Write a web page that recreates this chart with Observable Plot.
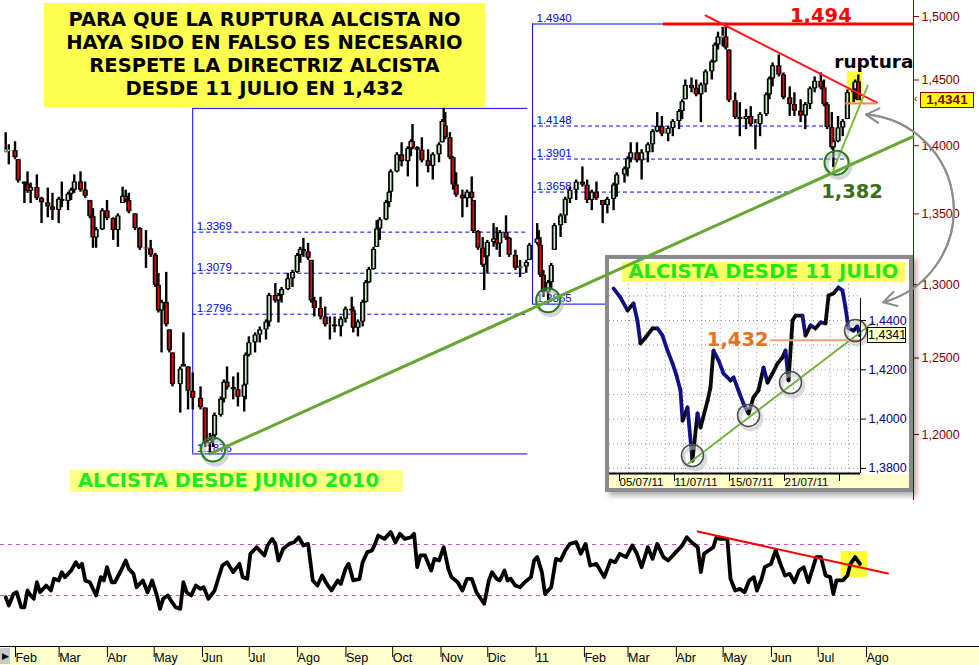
<!DOCTYPE html>
<html>
<head>
<meta charset="utf-8">
<script src="https://cdn.jsdelivr.net/npm/d3@7"></script>
<script src="https://cdn.jsdelivr.net/npm/@observablehq/plot@0.6"></script>
<style>
  html,body{margin:0;padding:0;background:#fff;}
  #chart{position:relative;width:979px;height:665px;overflow:hidden;background:#fff;}
  .box{position:absolute;box-sizing:border-box;}
</style>
</head>
<body>
<div id="chart"></div>
<script>
// ================= DATA =================
// EUR/USD candles (≈ every 2-3 sessions)
const candleDates = [
"2010-01-27","2010-01-29","2010-02-02","2010-02-04","2010-02-08","2010-02-10","2010-02-12","2010-02-16",
"2010-02-19","2010-02-23","2010-02-26","2010-03-02","2010-03-04","2010-03-08","2010-03-10","2010-03-12",
"2010-03-16","2010-03-19","2010-03-22","2010-03-24","2010-03-26","2010-03-30","2010-04-02","2010-04-06",
"2010-04-09","2010-04-12","2010-04-14","2010-04-16","2010-04-20","2010-04-23","2010-04-27","2010-04-30",
"2010-05-03","2010-05-05","2010-05-07","2010-05-10","2010-05-12","2010-05-14","2010-05-19","2010-05-21",
"2010-05-24","2010-05-27","2010-06-01","2010-06-04","2010-06-07","2010-06-09","2010-06-10","2010-06-14",
"2010-06-16","2010-06-18","2010-06-22","2010-06-25","2010-06-29","2010-06-30","2010-07-02","2010-07-06",
"2010-07-09","2010-07-13","2010-07-15","2010-07-19","2010-07-21","2010-07-23","2010-07-27","2010-07-30",
"2010-08-02","2010-08-04","2010-08-06","2010-08-09","2010-08-11","2010-08-13","2010-08-17","2010-08-20",
"2010-08-23","2010-08-26","2010-08-30","2010-09-02","2010-09-06","2010-09-07","2010-09-10","2010-09-13",
"2010-09-15","2010-09-17","2010-09-20","2010-09-22","2010-09-24","2010-09-28","2010-09-30","2010-10-01",
"2010-10-05","2010-10-08","2010-10-12","2010-10-14","2010-10-15","2010-10-18","2010-10-21","2010-10-25",
"2010-10-28","2010-11-01","2010-11-03","2010-11-04","2010-11-05","2010-11-08","2010-11-10","2010-11-12",
"2010-11-16","2010-11-19","2010-11-22","2010-11-23","2010-11-26","2010-11-29","2010-11-30","2010-12-02",
"2010-12-06","2010-12-08","2010-12-10","2010-12-14","2010-12-16","2010-12-20","2010-12-23","2010-12-27",
"2010-12-29","2011-01-03","2011-01-04","2011-01-05","2011-01-07","2011-01-10","2011-01-12","2011-01-14",
"2011-01-18","2011-01-21","2011-01-24","2011-01-28","2011-02-01","2011-02-04","2011-02-07","2011-02-10",
"2011-02-14","2011-02-17","2011-02-21","2011-02-23","2011-02-28","2011-03-02","2011-03-04","2011-03-08",
"2011-03-11","2011-03-15","2011-03-18","2011-03-21","2011-03-24","2011-03-28","2011-03-31","2011-04-04",
"2011-04-06","2011-04-08","2011-04-12","2011-04-15","2011-04-18","2011-04-21","2011-04-25","2011-04-27",
"2011-04-29","2011-05-02","2011-05-04","2011-05-06","2011-05-10","2011-05-13","2011-05-17","2011-05-20",
"2011-05-23","2011-05-26","2011-05-30","2011-06-01","2011-06-03","2011-06-07","2011-06-10","2011-06-14",
"2011-06-17","2011-06-21","2011-06-24","2011-06-27","2011-06-30","2011-07-04","2011-07-06","2011-07-08",
"2011-07-11","2011-07-12","2011-07-15","2011-07-18","2011-07-21","2011-07-25","2011-07-26","2011-07-28"];
const candleHigh = [
1.4098,1.4007,1.4030,1.3896,1.3731,1.3806,1.3724,1.3784,
1.3620,1.3687,1.3649,1.3620,1.3731,1.3657,1.3687,1.3784,
1.3806,1.3731,1.3597,1.3537,1.3401,1.3537,1.3597,1.3472,
1.3500,1.3694,1.3672,1.3649,1.3500,1.3401,1.3380,1.3310,
1.3218,1.3078,1.2892,1.3085,1.2689,1.2534,1.2441,1.2669,
1.2441,1.2401,1.2309,1.2171,1.2007,1.2007,1.2138,1.2243,
1.2355,1.2441,1.2375,1.2401,1.2336,1.2534,1.2642,1.2669,
1.2709,1.2757,1.2939,1.3007,1.2939,1.2980,1.3078,1.3099,
1.3218,1.3261,1.3324,1.3289,1.3169,1.2912,1.2912,1.2845,
1.2777,1.2777,1.2777,1.2845,1.2912,1.2845,1.2757,1.2892,
1.3028,1.3120,1.3261,1.3451,1.3472,1.3597,1.3672,1.3821,
1.3948,1.4022,1.3993,1.4045,1.4159,1.3993,1.4060,1.3970,
1.3948,1.4022,1.4197,1.4282,1.4250,1.4098,1.3918,1.3799,
1.3672,1.3672,1.3769,1.3597,1.3380,1.3331,1.3240,1.3310,
1.3430,1.3401,1.3380,1.3486,1.3331,1.3240,1.3169,1.3169,
1.3289,1.3430,1.3380,1.3331,1.3099,1.3028,1.3148,1.3430,
1.3500,1.3620,1.3694,1.3746,1.3843,1.3746,1.3672,1.3731,
1.3597,1.3620,1.3724,1.3799,1.3843,1.3918,1.4022,1.4022,
1.3970,1.4022,1.4121,1.4250,1.4220,1.4144,1.4197,1.4273,
1.4348,1.4500,1.4516,1.4500,1.4477,1.4578,1.4656,1.4789,
1.4875,1.4914,1.4940,1.4734,1.4401,1.4326,1.4273,1.4295,
1.4197,1.4250,1.4401,1.4524,1.4633,1.4695,1.4555,1.4447,
1.4401,1.4348,1.4326,1.4447,1.4524,1.4555,1.4500,1.4326,
1.4250,1.4045,1.4220,1.4197,1.4424,1.4477,1.4500,1.4539];
const candleLow = [
1.3948,1.3858,1.3896,1.3724,1.3575,1.3649,1.3575,1.3597,
1.3430,1.3472,1.3451,1.3430,1.3545,1.3523,1.3597,1.3649,
1.3657,1.3612,1.3465,1.3254,1.3254,1.3380,1.3451,1.3310,
1.3261,1.3575,1.3582,1.3500,1.3380,1.3240,1.3113,1.3190,
1.2980,1.2804,1.2534,1.2709,1.2534,1.2309,1.2138,1.2441,
1.2158,1.2158,1.2158,1.1917,1.1876,1.1917,1.1981,1.2112,
1.2204,1.2289,1.2224,1.2178,1.2145,1.2224,1.2507,1.2534,
1.2601,1.2621,1.2709,1.2872,1.2736,1.2872,1.2959,1.2980,
1.3078,1.3148,1.3190,1.3169,1.2872,1.2777,1.2757,1.2709,
1.2621,1.2669,1.2642,1.2736,1.2804,1.2669,1.2642,1.2709,
1.2872,1.3007,1.3099,1.3261,1.3310,1.3451,1.3545,1.3620,
1.3799,1.3843,1.3769,1.3918,1.3970,1.3694,1.3873,1.3799,
1.3746,1.3873,1.4022,1.4083,1.4045,1.3896,1.3672,1.3620,
1.3472,1.3545,1.3597,1.3359,1.3240,1.3120,1.2959,1.3078,
1.3261,1.3240,1.3190,1.3310,1.3190,1.3099,1.3049,1.3078,
1.3169,1.3289,1.3261,1.3049,1.2912,1.2867,1.2959,1.3240,
1.3331,1.3430,1.3575,1.3597,1.3694,1.3575,1.3523,1.3597,
1.3430,1.3500,1.3523,1.3620,1.3724,1.3769,1.3873,1.3873,
1.3746,1.3873,1.3948,1.4098,1.4068,1.4030,1.4068,1.4121,
1.4197,1.4348,1.4401,1.4371,1.4174,1.4401,1.4500,1.4633,
1.4734,1.4758,1.4734,1.4326,1.4197,1.4068,1.4121,1.4144,
1.3970,1.4068,1.4220,1.4348,1.4447,1.4524,1.4348,1.4220,
1.4220,1.4174,1.4121,1.4273,1.4401,1.4424,1.4295,1.4121,
1.3970,1.3837,1.4022,1.4068,1.4197,1.4326,1.4348,1.4348];
const candleClose = [
1.3960,1.3963,1.3911,1.3739,1.3716,1.3664,1.3691,1.3612,
1.3580,1.3550,1.3525,1.3605,1.3590,1.3642,1.3672,1.3732,
1.3672,1.3627,1.3480,1.3328,1.3386,1.3522,1.3466,1.3381,
1.3485,1.3627,1.3597,1.3515,1.3395,1.3255,1.3250,1.3205,
1.2995,1.2819,1.2877,1.2724,1.2549,1.2324,1.2426,1.2456,
1.2280,1.2234,1.2173,1.1942,1.1962,1.1992,1.2123,1.2228,
1.2340,1.2304,1.2290,1.2241,1.2321,1.2519,1.2602,1.2654,
1.2689,1.2742,1.2924,1.2887,1.2924,1.2965,1.3040,1.3084,
1.3203,1.3246,1.3229,1.3184,1.2887,1.2835,1.2777,1.2724,
1.2723,1.2710,1.2762,1.2830,1.2819,1.2700,1.2742,1.2877,
1.3013,1.3105,1.3246,1.3391,1.3457,1.3582,1.3657,1.3806,
1.3932,1.3881,1.3978,1.4030,1.3985,1.3967,1.3888,1.3847,
1.3933,1.4007,1.4182,1.4148,1.4060,1.3911,1.3710,1.3635,
1.3609,1.3657,1.3612,1.3374,1.3255,1.3135,1.3194,1.3295,
1.3320,1.3285,1.3365,1.3325,1.3205,1.3114,1.3123,1.3154,
1.3274,1.3320,1.3276,1.3064,1.2947,1.3013,1.3133,1.3415,
1.3485,1.3605,1.3671,1.3731,1.3709,1.3597,1.3657,1.3612,
1.3560,1.3605,1.3709,1.3783,1.3828,1.3903,1.3947,1.3888,
1.3947,1.4007,1.4106,1.4144,1.4087,1.4129,1.4182,1.4258,
1.4333,1.4458,1.4435,1.4386,1.4462,1.4563,1.4641,1.4774,
1.4836,1.4837,1.4749,1.4341,1.4212,1.4197,1.4220,1.4159,
1.4159,1.4235,1.4386,1.4509,1.4610,1.4539,1.4363,1.4311,
1.4261,1.4224,1.4311,1.4432,1.4490,1.4439,1.4310,1.4136,
1.3985,1.4030,1.4133,1.4182,1.4402,1.4424,1.4485,1.4341];

// lower-panel oscillator
const oscDates = [
"2010-01-27","2010-01-29","2010-02-01","2010-02-03","2010-02-06","2010-02-08","2010-02-10","2010-02-12","2010-02-14","2010-02-16",
"2010-02-18","2010-02-22","2010-02-25","2010-02-27","2010-03-02","2010-03-04","2010-03-06","2010-03-10","2010-03-13","2010-03-15",
"2010-03-17","2010-03-19","2010-03-22","2010-03-26","2010-03-29","2010-03-31","2010-04-02","2010-04-05","2010-04-07","2010-04-11",
"2010-04-14","2010-04-16","2010-04-19","2010-04-21","2010-04-25","2010-04-28","2010-05-01","2010-05-04","2010-05-06","2010-05-08",
"2010-05-11","2010-05-13","2010-05-16","2010-05-19","2010-05-21","2010-05-23","2010-05-26","2010-05-29","2010-06-01","2010-06-03",
"2010-06-06","2010-06-10","2010-06-12","2010-06-15","2010-06-18","2010-06-20","2010-06-22","2010-06-26","2010-06-28","2010-07-01",
"2010-07-03","2010-07-07","2010-07-12","2010-07-14","2010-07-17","2010-07-19","2010-07-21","2010-07-24","2010-07-28","2010-07-31",
"2010-08-03","2010-08-06","2010-08-09","2010-08-12","2010-08-15","2010-08-18","2010-08-21","2010-08-24","2010-08-28","2010-08-30",
"2010-09-02","2010-09-04","2010-09-07","2010-09-11","2010-09-13","2010-09-16","2010-09-19","2010-09-21","2010-09-23","2010-09-27",
"2010-10-01","2010-10-04","2010-10-07","2010-10-10","2010-10-14","2010-10-16","2010-10-18","2010-10-20","2010-10-23","2010-10-27",
"2010-10-29","2010-11-01","2010-11-04","2010-11-07","2010-11-09","2010-11-13","2010-11-16","2010-11-19","2010-11-22","2010-11-25",
"2010-11-30","2010-12-03","2010-12-05","2010-12-08","2010-12-10","2010-12-13","2010-12-15","2010-12-17","2010-12-20","2010-12-23",
"2010-12-26","2010-12-30","2011-01-01","2011-01-03","2011-01-06","2011-01-08","2011-01-12","2011-01-15","2011-01-18","2011-01-21",
"2011-01-24","2011-01-28","2011-01-31","2011-02-03","2011-02-06","2011-02-10","2011-02-15","2011-02-19","2011-02-22","2011-02-25",
"2011-03-01","2011-03-05","2011-03-08","2011-03-11","2011-03-15","2011-03-18","2011-03-21","2011-03-25","2011-03-28","2011-04-02",
"2011-04-06","2011-04-09","2011-04-12","2011-04-16","2011-04-18","2011-04-20","2011-04-23","2011-04-26","2011-04-28","2011-04-30",
"2011-05-05","2011-05-07","2011-05-10","2011-05-13","2011-05-16","2011-05-19","2011-05-22","2011-05-24","2011-05-27","2011-05-29",
"2011-06-02","2011-06-05","2011-06-08","2011-06-11","2011-06-14","2011-06-17","2011-06-20","2011-06-23","2011-06-26","2011-07-01",
"2011-07-04","2011-07-07","2011-07-10","2011-07-12","2011-07-14","2011-07-18","2011-07-21","2011-07-23","2011-07-26","2011-07-29"];
const oscValues = [
28.7,22.1,31.3,32.6,20.8,20.8,33.9,30.0,27.4,40.4,
32.6,37.8,33.9,43.1,41.8,48.3,44.4,49.6,56.1,52.2,
54.8,41.8,40.4,30.0,44.4,41.8,52.2,40.4,40.4,49.6,
57.4,50.9,47.0,36.5,41.8,32.6,41.8,30.0,19.5,27.4,
30.0,26.1,20.8,19.5,40.4,32.6,30.0,37.8,35.2,36.5,
27.4,33.9,41.8,53.5,56.1,52.2,48.3,54.8,44.4,43.1,
62.7,67.9,61.4,69.2,74.4,70.5,57.4,66.6,70.5,71.8,
75.7,69.2,70.5,41.8,37.8,45.7,39.1,33.9,41.8,39.1,
50.9,54.8,41.8,43.1,56.1,64.0,65.3,70.5,77.0,74.4,
79.7,71.8,78.4,74.4,75.7,78.4,52.2,61.4,61.4,49.6,
58.7,57.4,67.9,50.9,44.4,40.4,33.9,43.1,43.1,32.6,
23.5,41.8,48.3,43.1,41.8,49.6,41.8,43.1,37.8,36.5,
40.4,44.4,57.4,60.1,48.3,31.3,36.5,58.7,57.4,65.3,
70.5,71.8,62.7,70.5,53.5,54.8,44.4,57.4,56.1,62.7,
60.1,69.2,62.7,52.2,67.9,58.7,70.5,60.1,57.4,64.0,
69.2,75.7,71.8,67.9,48.3,62.7,65.3,67.9,75.7,74.4,
74.4,43.1,33.9,35.2,32.6,41.8,44.4,33.9,43.1,52.2,
54.8,65.3,54.8,45.7,47.0,40.4,49.6,52.2,40.4,60.1,
60.1,45.7,44.4,31.3,41.8,41.8,45.7,54.8,60.1,54.8];
const oscLevels = [30, 70];
const oscLevelEnd = "2011-07-29";
const oscTrend = [["2011-04-16", 80.2], ["2011-08-16", 47.3]];
const oscBox = {x1: "2011-07-17", x2: "2011-08-03", y1: 44.1, y2: 64.5};

// Fibonacci retracements
const fib1Levels = [1.3369, 1.3079, 1.2796];
const fib1High = 1.4282, fib1Low = 1.1876;
const fib1Span = ["2010-05-27", "2010-12-28"];
const fib2Levels = [1.4148, 1.3901, 1.3658];
const fib2LevelEnds = ["2011-07-10", "2011-07-21", "2011-06-16"];
const fib2High = 1.4940, fib2Low = 1.2865;
const fib2Start = "2010-12-31", fib2TopEnd = "2011-03-25", fib2BottomEnd = "2011-02-20";

// annotations on the main chart
const resistance = 1.494, resistanceStart = "2011-03-25";
const mainTrend = [["2010-06-07", 1.1876], ["2011-09-01", 1.4068]];
const shortTrend = [["2011-07-12", 1.3821], ["2011-08-03", 1.4455]];
const downTrend = [["2011-04-21", 1.5008], ["2011-08-09", 1.4326]];
const breakLevel = {x1: "2011-07-20", x2: "2011-08-09", y: 1.432};
const breakBox = {x1: "2011-07-21", x2: "2011-07-31", y1: 1.4326, y2: 1.4563};
const pivots = [["2010-06-09", 1.1904], ["2011-01-10", 1.2892], ["2011-07-14", 1.3873]];
const label1494 = ["2011-07-04", 1.501];
const label1382 = ["2011-07-24", 1.3658];
const labelRuptura = ["2011-08-07", 1.4641];
const arrowEnds = [["2011-08-02", 1.4235], ["2011-08-13", 1.2878]];
const lastPrice = 1.4341;
const priceTicks = [1.20, 1.25, 1.30, 1.35, 1.40, 1.45, 1.50];
const monthTicks = ["2010-02-01","2010-03-01","2010-04-01","2010-05-01","2010-06-01","2010-07-01","2010-08-01",
  "2010-09-01","2010-10-01","2010-11-01","2010-12-01","2011-01-01","2011-02-01","2011-03-01","2011-04-01",
  "2011-05-01","2011-06-01","2011-07-01","2011-08-01"];
const monthLabels = ["Feb","Mar","Abr","May","Jun","Jul","Ago","Sep","Oct","Nov","Dic","11","Feb","Mar","Abr","May","Jun","Jul","Ago"];

// inset: hourly EUR/USD since 4 July 2011 (x = trading days after 05/07/11)
const insetT = [-0.29,0.22,0.73,1.16,1.45,1.67,2.04,2.55,2.91,3.27,3.64,4.0,4.29,4.58,4.73,5.09,5.45,5.82,6.04,6.55,
  6.76,6.98,7.35,7.71,8.22,8.44,8.8,9.16,9.53,9.89,10.25,10.62,10.91,11.27,11.64,12.0,12.22,12.44,12.73,12.95,
  13.45,13.67,14.04,14.4,14.76,15.13,15.35,15.71,16.07,16.36,16.58,16.8,17.16,17.45,17.6];
const insetPrice = [1.4530,1.4493,1.4441,1.4469,1.4400,1.4307,1.4331,1.4368,1.4368,1.4339,1.4278,1.4226,1.4177,1.4116,
  1.3994,1.4047,1.3832,1.4023,1.3966,1.4075,1.4128,1.4278,1.4238,1.4185,1.4157,1.4169,1.4116,1.4063,1.4023,1.4088,
  1.4116,1.4209,1.4148,1.4185,1.4226,1.4250,1.4278,1.4157,1.4400,1.4420,1.4420,1.4339,1.4380,1.4368,1.4392,1.4388,
  1.4501,1.4510,1.4534,1.4522,1.4453,1.4368,1.4359,1.4376,1.4341];
const insetTicks = [0, 4, 8, 12, 16];
const insetTickLabels = ["05/07/11", "11/07/11", "15/07/11", "21/07/11", ""];
const insetPriceTicks = [1.38, 1.40, 1.42, 1.44];
const insetGridPrices = [1.38, 1.39, 1.40, 1.41, 1.42, 1.43, 1.44, 1.45];
const insetGridT = [0.8, 2.13, 3.47, 4.8, 6.13, 7.47, 8.8, 10.13, 11.47, 12.8, 14.13, 15.47, 16.8];
const insetGridSpan = [1.378, 1.455];
const insetAxisT = 17.67, insetAxisPrice = 1.3779;
const insetTrend = [[5.16, 1.382], [18.6, 1.4392]];
const insetLevel = {t1: 11.13, t2: 17.8, p: 1.432};
const insetPivots = [[5.45, 1.3852], [9.53, 1.4015], [12.58, 1.4148], [17.31, 1.4359]];
const insetLast = 1.4341;

// ================= BUILD =================
const parse = s => new Date(s);
const fmt4 = d => d.toFixed(4).replace(".", ",");
const X_DOMAIN = [new Date("2010-01-23T16:00Z"), new Date("2011-09-01T10:00Z")];
const SANS = "'Liberation Sans', Arial, sans-serif";
const BOLD = "'DejaVu Sans', Verdana, sans-serif";

const candles = candleDates.map((d, i) => {
  const prev = i > 0 ? candleClose[i - 1] : candleClose[i];
  const open = Math.min(candleHigh[i], Math.max(candleLow[i], prev));
  const close = candleClose[i];
  return {date: parse(d), high: candleHigh[i], low: candleLow[i],
          top: Math.max(open, close), bottom: Math.min(open, close), up: close >= open};
});
const osc = oscDates.map((d, i) => ({date: parse(d), v: oscValues[i]}));

const root = document.getElementById("chart");
function place(el, left, top, z) {
  el.style.position = "absolute"; el.style.left = left + "px"; el.style.top = top + "px";
  el.style.zIndex = z; root.appendChild(el); return el;
}
function makeDiv(css, html) {
  const d = document.createElement("div"); d.className = "box";
  Object.assign(d.style, css); if (html != null) d.innerHTML = html; return d;
}
const svgStyle = (color) => ({background: "transparent", overflow: "visible", color, fontFamily: SANS, fontSize: "12px"});

// ---------- main price panel ----------
const main = Plot.plot({
  width: 979, height: 500, marginLeft: 0, marginRight: 66, marginTop: 0, marginBottom: 0,
  style: svgStyle("#800000"),
  x: {type: "utc", domain: X_DOMAIN, axis: null},
  y: {type: "log", domain: [1.2, 1.5], range: [434, 16]},
  marks: [
    Plot.rect([breakBox], {x1: d => parse(d.x1), x2: d => parse(d.x2), y1: "y1", y2: "y2", fill: "#ffff33"}),
    // Fibonacci 1 (June 2010 low -> Nov 2010 high)
    Plot.ruleY(fib1Levels, {y: d => d, x1: () => parse(fib1Span[0]), x2: () => parse(fib1Span[1]), stroke: "#0000ff", strokeDasharray: "4,3"}),
    Plot.ruleY([fib1High, fib1Low], {y: d => d, x1: () => parse(fib1Span[0]), x2: () => parse(fib1Span[1]), stroke: "#0000ff"}),
    Plot.ruleX([fib1Span[0]], {x: d => parse(d), y1: fib1Low, y2: fib1High, stroke: "#0000ff"}),
    Plot.text([...fib1Levels, fib1Low], {x: () => parse(fib1Span[0]), y: d => d, text: d => d.toFixed(4), textAnchor: "start", lineAnchor: "bottom", dx: 4, dy: -2, fill: "#0000ff", fontSize: 11.5, fontFamily: SANS}),
    // Fibonacci 2 (Jan 2011 low -> May 2011 high)
    Plot.ruleY(fib2Levels, {y: d => d, x1: () => parse(fib2Start), x2: (d, i) => parse(fib2LevelEnds[i]), stroke: "#0000ff", strokeDasharray: "4,3"}),
    Plot.ruleY([fib2High], {y: d => d, x1: () => parse(fib2Start), x2: () => parse(fib2TopEnd), stroke: "#0000ff"}),
    Plot.ruleY([fib2Low], {y: d => d, x1: () => parse(fib2Start), x2: () => parse(fib2BottomEnd), stroke: "#0000ff"}),
    Plot.ruleX([fib2Start], {x: d => parse(d), y1: fib2Low, y2: fib2High, stroke: "#0000ff"}),
    Plot.text([fib2High, ...fib2Levels, fib2Low], {x: () => parse(fib2Start), y: d => d, text: d => d.toFixed(4), textAnchor: "start", lineAnchor: "bottom", dx: 4, dy: -2, fill: "#0000ff", fontSize: 11.5, fontFamily: SANS}),
    // candles
    Plot.ruleX(candles, {x: "date", y1: "low", y2: "high", stroke: "#000", strokeWidth: 2.4}),
    Plot.ruleX(candles, {x: "date", y1: "top", y2: "bottom", stroke: "#000", strokeWidth: 5.2}),
    Plot.ruleX(candles, {x: "date", y1: "top", y2: "bottom", stroke: d => d.up ? "#c4f4c4" : "#ff0000", strokeWidth: 1.7, insetTop: 1, insetBottom: 1}),
    // resistance & trend lines
    Plot.ruleY([resistance], {y: d => d, x1: () => parse(resistanceStart), x2: () => X_DOMAIN[1], stroke: "#ff0000", strokeWidth: 3}),
    Plot.line(downTrend, {x: d => parse(d[0]), y: d => d[1], stroke: "#ff1a1a", strokeWidth: 2}),
    Plot.line(shortTrend, {x: d => parse(d[0]), y: d => d[1], stroke: "#7abb3e", strokeWidth: 2}),
    Plot.ruleY([breakLevel], {y: "y", x1: d => parse(d.x1), x2: d => parse(d.x2), stroke: "#ff8a3d", strokeWidth: 2}),
    Plot.dot(pivots, {x: d => parse(d[0]), y: d => d[1], r: 12, stroke: "#b0b0b0", strokeWidth: 4, strokeOpacity: 0.55, dx: 2, dy: 3}),
    Plot.dot(pivots, {x: d => parse(d[0]), y: d => d[1], r: 12, stroke: "#1f7f1f", strokeWidth: 2}),
    // labels
    Plot.text([label1494], {x: d => parse(d[0]), y: d => d[1], text: () => "1,494", fill: "#ff0000", fontSize: 19.5, fontWeight: "bold", fontFamily: BOLD}),
    Plot.text([label1382], {x: d => parse(d[0]), y: d => d[1], text: () => "1,382", fill: "#3d6e1c", fontSize: 19.5, fontWeight: "bold", fontFamily: BOLD}),
    Plot.text([labelRuptura], {x: d => parse(d[0]), y: d => d[1], text: () => "ruptura", fill: "#000", fontSize: 18.5, fontWeight: "bold", fontFamily: BOLD}),
    // right axis
    Plot.ruleX([X_DOMAIN[1]], {x: d => d, stroke: "#800000"}),
    Plot.axisY(priceTicks, {anchor: "right", tickSize: 5, tickPadding: 3, tickFormat: fmt4, fontSize: 12.5})
  ]
});
place(main, 0, 0, 1);

// ---------- oscillator panel ----------
place(makeDiv({width: "979px", height: "19px", background: "#ffffcc", borderTop: "1px solid #000"}), 0, 646, 2);
const monthLabelMap = new Map(monthTicks.map((d, i) => [+parse(d), monthLabels[i]]));
const lower = Plot.plot({
  width: 979, height: 165, marginLeft: 0, marginRight: 66, marginTop: 0, marginBottom: 19,
  style: svgStyle("#000"),
  x: {type: "utc", domain: X_DOMAIN},
  y: {domain: [30, 70], range: [95, 44], axis: null},
  marks: [
    Plot.rect([oscBox], {x1: d => parse(d.x1), x2: d => parse(d.x2), y1: "y1", y2: "y2", fill: "#ffff33"}),
    Plot.ruleY(oscLevels, {y: d => d, x1: () => X_DOMAIN[0], x2: () => parse(oscLevelEnd), stroke: "#c558c5", strokeDasharray: "4,4"}),
    Plot.line(osc, {x: "date", y: "v", stroke: "#000", strokeWidth: 3.8, strokeLinejoin: "round", strokeLinecap: "round"}),
    Plot.line(oscTrend, {x: d => parse(d[0]), y: d => d[1], stroke: "#ff0000", strokeWidth: 2}),
    Plot.axisX(monthTicks.map(parse), {anchor: "bottom", tickSize: 11, tickPadding: -4, textAnchor: "start", dx: 2, tickFormat: d => monthLabelMap.get(+d), fontSize: 12.5})
  ]
});
place(lower, 0, 500, 3);
place(makeDiv({width: "10px", height: "16px", background: "#c8c8c8", fontSize: "9px", lineHeight: "16px", color: "#000", textAlign: "center"}, "&#9654;"), 0, 648, 4);

// ---------- text boxes ----------
place(makeDiv({width: "441px", height: "104px", background: "#ffff4f", color: "#000", textAlign: "center",
  fontFamily: BOLD, fontWeight: "bold", fontSize: "19.5px", lineHeight: "23px", paddingTop: "5px", whiteSpace: "nowrap"},
  "PARA QUE LA RUPTURA ALCISTA NO<br>HAYA SIDO EN FALSO ES NECESARIO<br>RESPETE LA DIRECTRIZ ALCISTA<br>DESDE 11 JULIO EN 1,432"), 44, 3, 5);
place(makeDiv({width: "333px", height: "22px", background: "#ffff88", color: "#1ee81e", fontFamily: BOLD, fontWeight: "bold",
  fontSize: "19.5px", lineHeight: "22px", paddingLeft: "8px", whiteSpace: "nowrap"}, "ALCISTA DESDE JUNIO 2010"), 70, 470, 5);

// ---------- inset ----------
const insetBox = place(makeDiv({width: "308px", height: "237px", background: "#fff", border: "4px solid #8a8a8a",
  boxShadow: "4px 4px 5px rgba(0,0,0,0.30)"}), 605, 255, 6);
const strip = makeDiv({left: "0px", top: "215px", width: "300px", height: "14px", background: "#ffffcc"});
insetBox.appendChild(strip);
const insetSegs = insetT.slice(1).map((t, i) => ({t1: insetT[i], p1: insetPrice[i], t2: t, p2: insetPrice[i + 1]}));
const tickLabelMap = new Map(insetTicks.map((t, i) => [t, insetTickLabels[i]]));
const inset = Plot.plot({
  width: 300, height: 229, marginLeft: 0, marginRight: 49, marginTop: 39, marginBottom: 15,
  style: Object.assign(svgStyle("#000"), {position: "absolute", left: "0px", top: "0px"}),
  x: {type: "linear", domain: [0, 16], range: [8, 228]},
  y: {type: "linear", domain: [1.38, 1.44], range: [208.9, 61]},
  marks: [
    Plot.ruleY(insetGridPrices, {y: d => d, stroke: "#9a9a9a", strokeDasharray: "1,3"}),
    Plot.ruleX(insetGridT, {x: d => d, y1: insetGridSpan[0], y2: insetGridSpan[1], stroke: "#9a9a9a", strokeDasharray: "1,3"}),
    Plot.link(insetSegs, {x1: "t1", y1: "p1", x2: "t2", y2: "p2", stroke: d => d.p2 >= d.p1 ? "#0a0a0a" : "#10108a", strokeWidth: 3.8, strokeLinecap: "round"}),
    Plot.line(insetTrend, {x: d => d[0], y: d => d[1], stroke: "#74b43a", strokeWidth: 2}),
    Plot.ruleY([insetLevel], {y: "p", x1: "t1", x2: "t2", stroke: "#f0a070", strokeWidth: 2}),
    Plot.dot(insetPivots, {x: d => d[0], y: d => d[1], r: 11, stroke: "#c0c0c0", strokeWidth: 4, strokeOpacity: 0.55, dx: 2, dy: 3}),
    Plot.dot(insetPivots, {x: d => d[0], y: d => d[1], r: 11, stroke: "#505050", strokeWidth: 1.5}),
    Plot.text([insetLevel], {x: "t1", y: "p", text: () => "1,432", textAnchor: "end", dx: -2, fill: "#e8721c", fontSize: 19.5, fontWeight: "bold", fontFamily: BOLD}),
    Plot.ruleX([insetAxisT], {x: d => d, stroke: "#000"}),
    Plot.ruleY([insetAxisPrice], {y: d => d, stroke: "#000", strokeWidth: 2}),
    Plot.axisY(insetPriceTicks, {anchor: "right", tickSize: 5, tickPadding: 3, tickFormat: fmt4, fill: "#000080", fontSize: 12.5}),
    Plot.axisX(insetTicks, {anchor: "bottom", tickSize: 8, tickPadding: -4, textAnchor: "start", dx: 2, tickFormat: d => tickLabelMap.get(d), fontSize: 11.5})
  ]
});
insetBox.appendChild(inset);
insetBox.appendChild(makeDiv({left: "13px", top: "3px", width: "283px", height: "20px", background: "#ffff66", color: "#1ee81e",
  fontFamily: BOLD, fontWeight: "bold", fontSize: "19.5px", lineHeight: "20px", textAlign: "center", whiteSpace: "nowrap"}, "ALCISTA DESDE 11 JULIO"));
const yi = inset.scale("y").apply(insetLast);
insetBox.appendChild(makeDiv({left: "258px", top: (yi - 8) + "px", width: "39px", height: "16px", background: "#ffffc8",
  border: "1px solid #000", fontFamily: SANS, fontSize: "12.5px", lineHeight: "14px", textAlign: "center", color: "#000"}, fmt4(insetLast)));

// ---------- overlay (long trend line + curved arrow) ----------
const overlay = Plot.plot({
  width: 979, height: 500, marginLeft: 0, marginRight: 66, marginTop: 0, marginBottom: 0,
  style: Object.assign(svgStyle("#000"), {pointerEvents: "none"}),
  x: {type: "utc", domain: X_DOMAIN, axis: null},
  y: {type: "log", domain: [1.2, 1.5], range: [434, 16], axis: null},
  marks: [
    Plot.line(mainTrend, {x: d => parse(d[0]), y: d => d[1], stroke: "#66a632", strokeWidth: 3}),
    Plot.arrow([arrowEnds], {x1: d => parse(d[0][0]), y1: d => d[0][1], x2: d => parse(d[1][0]), y2: d => d[1][1], bend: 80, stroke: "#8c8c8c", strokeWidth: 2, headLength: 11}),
    Plot.arrow([arrowEnds], {x1: d => parse(d[1][0]), y1: d => d[1][1], x2: d => parse(d[0][0]), y2: d => d[0][1], bend: -80, stroke: "#8c8c8c", strokeWidth: 2, headLength: 11})
  ]
});
place(overlay, 0, 0, 7);

// ---------- last price tag on main axis ----------
const ym = main.scale("y").apply(lastPrice);
place(makeDiv({width: "54px", height: "16px", background: "#ffff00", border: "1px solid #800000", color: "#800000",
  fontFamily: SANS, fontWeight: "bold", fontSize: "13.5px", lineHeight: "14px", textAlign: "center"}, fmt4(lastPrice)), 920, ym - 8, 8);
place(makeDiv({color: "#800000", fontFamily: SANS, fontSize: "10px", lineHeight: "10px"}, "&lsaquo;"), 914, ym - 6, 8);
</script>
</body>
</html>
